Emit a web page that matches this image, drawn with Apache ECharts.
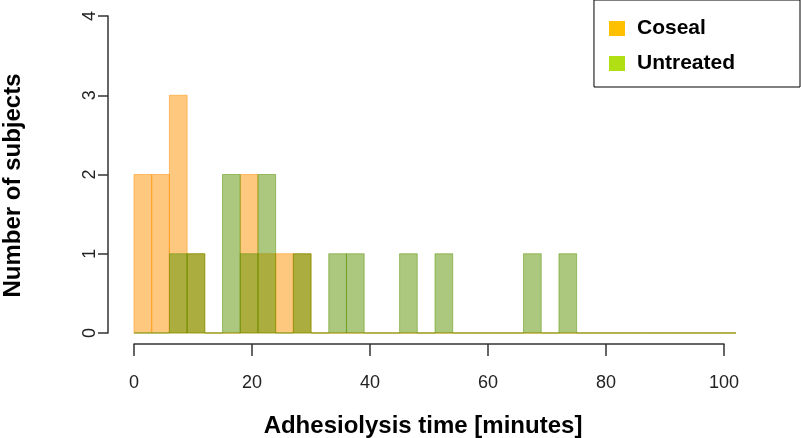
<!DOCTYPE html>
<html>
<head>
<meta charset="utf-8">
<script src="https://cdn.jsdelivr.net/npm/echarts@6/dist/echarts.min.js"></script>
<style>
  html, body { margin: 0; padding: 0; background: #fff; }
  #chart { width: 801px; height: 438px; }
</style>
</head>
<body>
<div id="chart"></div>
<script>
(function () {
    'use strict';

    //////////DATA
    // bins of 3 minutes, 0..102
    var binWidth = 3;
    var binCount = 34;
    var coseal    = [2, 2, 3, 1, 0, 0, 2, 1, 1, 1, 0, 0, 0, 0, 0, 0, 0, 0, 0, 0, 0, 0, 0, 0, 0, 0, 0, 0, 0, 0, 0, 0, 0, 0];
    var untreated = [0, 0, 1, 1, 0, 2, 1, 2, 0, 1, 0, 1, 1, 0, 0, 1, 0, 1, 0, 0, 0, 0, 1, 0, 1, 0, 0, 0, 0, 0, 0, 0, 0, 0];
    var xTicks = [0, 20, 40, 60, 80, 100];
    var yTicks = [0, 1, 2, 3, 4];
    //////////

    var font = '"Liberation Sans", Arial, sans-serif';

    function toBins(counts) {
        var out = [];
        for (var i = 0; i < binCount; i++) {
            out.push([i * binWidth, (i + 1) * binWidth, counts[i]]);
        }
        return out;
    }

    function histItem(fill) {
        return function (params, api) {
            var topLeft = api.coord([api.value(0), api.value(2)]);
            var botRight = api.coord([api.value(1), 0]);
            return {
                type: 'rect',
                shape: {
                    x: topLeft[0],
                    y: topLeft[1],
                    width: botRight[0] - topLeft[0],
                    height: botRight[1] - topLeft[1]
                },
                style: { fill: fill, stroke: fill, lineWidth: 1 }
            };
        };
    }

    var chart = echarts.init(document.getElementById('chart'), null, { renderer: 'canvas' });

    chart.setOption({
        animation: false,
        backgroundColor: '#fff',
        grid: [
            { left: 134, top: 16, width: 602, height: 317, outerBoundsMode: 'none', containLabel: false },   // bars, 0..102
            { left: 134, top: 16, width: 590, height: 317, outerBoundsMode: 'none', containLabel: false }    // axis, 0..100
        ],
        xAxis: [
            { type: 'value', gridIndex: 0, min: 0, max: 102, show: false },
            {
                type: 'value', gridIndex: 1, min: 0, max: 100, interval: 20,
                offset: 11,
                axisLine: { show: true, onZero: false, lineStyle: { color: '#333', width: 1.5 } },
                axisTick: { show: true, length: 12, lineStyle: { color: '#333', width: 1.5 } },
                axisLabel: {
                    color: '#222', fontFamily: font, fontSize: 18, margin: 30,
                    formatter: function (v) { return xTicks.indexOf(v) >= 0 ? String(v) : ''; }
                },
                splitLine: { show: false },
                name: 'Adhesiolysis time [minutes]',
                nameLocation: 'middle',
                nameGap: 70,
                nameTextStyle: {
                    color: '#000', fontFamily: font, fontSize: 24, fontWeight: 'bold',
                    padding: [0, 12, 0, 0]
                }
            }
        ],
        yAxis: [
            {
                type: 'value', gridIndex: 0, min: 0, max: 4, interval: 1,
                offset: 26,
                axisLine: { show: true, onZero: false, lineStyle: { color: '#333', width: 1.5 } },
                axisTick: { show: true, length: 10, lineStyle: { color: '#333', width: 1.5 } },
                axisLabel: {
                    color: '#222', fontFamily: font, fontSize: 18, margin: 9, rotate: 90,
                    formatter: function (v) { return yTicks.indexOf(v) >= 0 ? String(v) : ''; }
                },
                splitLine: { show: false },
                name: 'Number of subjects',
                nameLocation: 'middle',
                nameGap: 83,
                nameRotate: 90,
                nameTextStyle: {
                    color: '#000', fontFamily: font, fontSize: 24, fontWeight: 'bold',
                    padding: [0, 22, 0, 0]
                }
            },
            { type: 'value', gridIndex: 1, min: 0, max: 4, show: false }
        ],
        legend: {
            right: 1, top: 0,
            orient: 'vertical',
            padding: [18, 65, 13, 15],
            itemGap: 14,
            itemWidth: 16, itemHeight: 15,
            borderColor: '#000', borderWidth: 1, borderRadius: 0,
            icon: 'rect',
            textStyle: { color: '#000', fontFamily: font, fontSize: 21, fontWeight: 'bold', padding: [0, 0, 0, 7] },
            data: [
                { name: 'Coseal', itemStyle: { color: '#FFC000' } },
                { name: 'Untreated', itemStyle: { color: '#B0E014' } }
            ]
        },
        series: [
            {
                name: 'Coseal', type: 'custom', xAxisIndex: 0, yAxisIndex: 0,
                renderItem: histItem('rgba(255,145,0,0.5)'),
                encode: { x: [0, 1], y: 2 },
                itemStyle: { color: '#FFC000' },
                data: toBins(coseal)
            },
            {
                name: 'Untreated', type: 'custom', xAxisIndex: 0, yAxisIndex: 0,
                renderItem: histItem('rgba(90,145,0,0.5)'),
                encode: { x: [0, 1], y: 2 },
                itemStyle: { color: '#B0E014' },
                data: toBins(untreated)
            }
        ]
    });
})();
</script>
</body>
</html>
